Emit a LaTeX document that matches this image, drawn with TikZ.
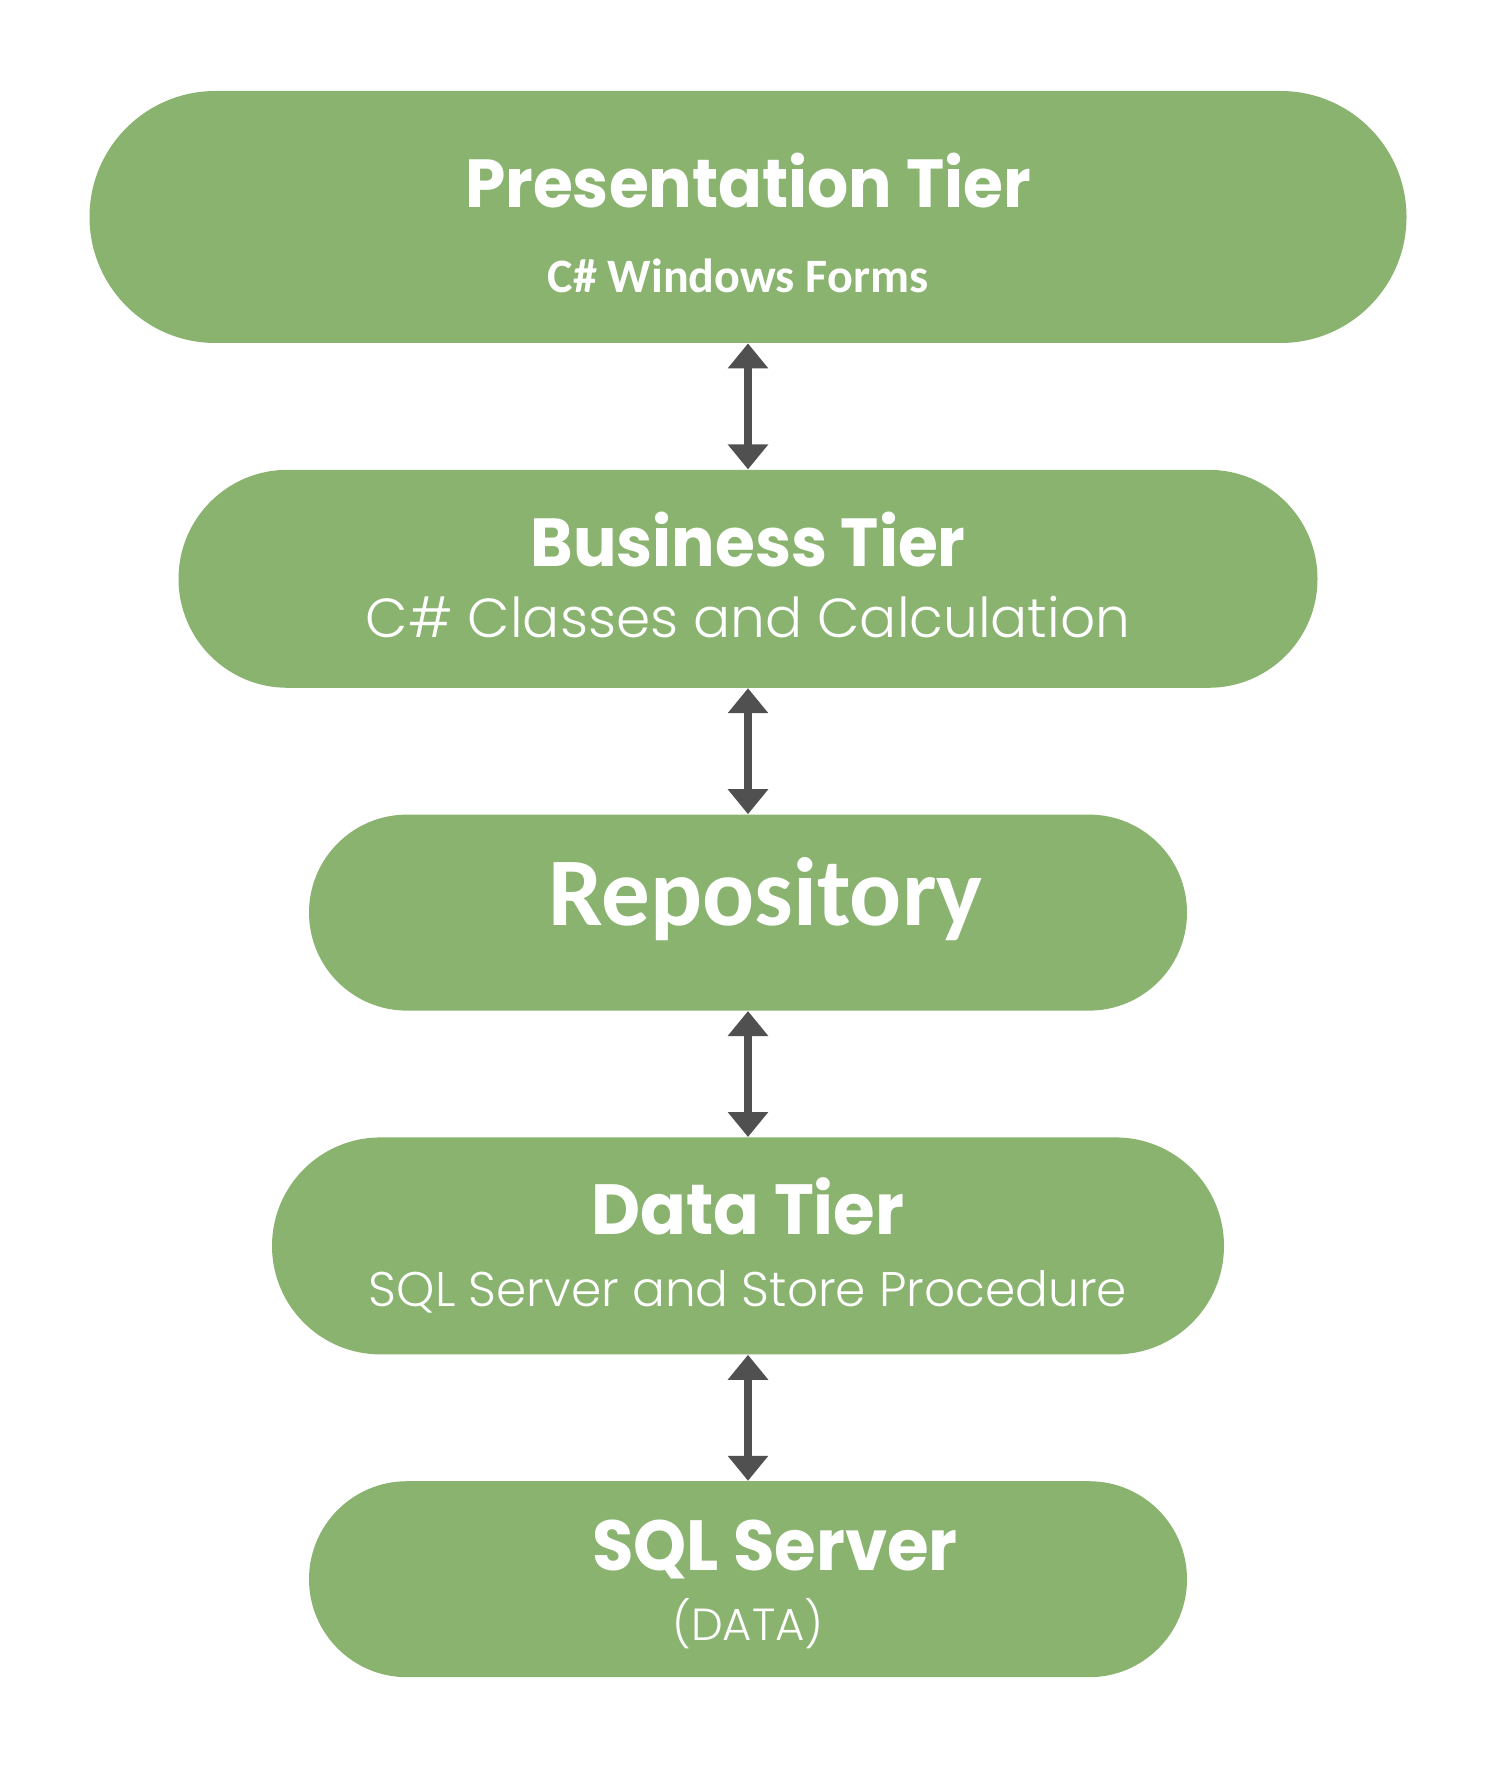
\documentclass[tikz,border=0pt]{standalone}
\usepackage{fontspec}
\usetikzlibrary{positioning,shapes.misc,arrows.meta}
\newfontfamily\popfont{Poppins}[FakeStretch=0.95]
\newfontfamily\poplight{Poppins Light}
\newfontfamily\calfont{Carlito}
\definecolor{tiergreen}{HTML}{89B36F}
\definecolor{arrowgray}{HTML}{505050}
\tikzset{
    tier/.style={shape=rounded rectangle, fill=tiergreen, inner sep=0pt},
    title/.style={anchor=base, text=white, inner sep=0pt, font=\popfont\bfseries\fontsize{34}{40}\selectfont},
    sub/.style={anchor=base, text=white, inner sep=0pt, font=\poplight\fontsize{24.3}{28}\selectfont},
    calibri/.style={anchor=base, text=white, inner sep=0pt, font=\calfont\bfseries\fontsize{#1}{#1}\selectfont},
    link/.style={{Triangle[width=19.5pt,length=12.5pt]}-{Triangle[width=19.5pt,length=12.5pt]}, line width=4pt, arrowgray},
}

\begin{document}
\begin{tikzpicture}
        \useasboundingbox (0,0) rectangle (750pt,-896pt);
        \node[tier, minimum width=658.5pt, minimum height=126pt] (pres) at (374pt,-108.5pt) {};
        \node[tier, minimum width=569.5pt, minimum height=109pt, below=63pt of pres] (bus) {};
        \node[tier, minimum width=439pt, minimum height=98pt, below=63pt of bus] (repo) {};
        \node[tier, minimum width=476pt, minimum height=108.5pt, below=63pt of repo] (data) {};
        \node[tier, minimum width=439pt, minimum height=98pt, below=63pt of data] (sql) {};

        \node[title] (prestitle) at ([yshift=4.5pt]pres.center) {Presentation Tier};
        \node[calibri=24] (pressub) at ([xshift=-5pt,yshift=-38pt]pres.center) {C\# Windows Forms};
        \node[title] (bustitle) at ([yshift=6pt]bus.center) {Business Tier};
        \node[sub, font=\poplight\fontsize{27.5}{32}\selectfont] (bussub) at ([yshift=-29.5pt]bus.center) {C\# Classes and Calculation};
        \node[calibri=48.5] (repotitle) at ([xshift=8.75pt,yshift=-6.5pt]repo.center) {Repository};
        \node[title, font=\popfont\bfseries\fontsize{35.5}{40}\selectfont] (datatitle) at ([yshift=5.75pt]data.center) {Data Tier};
        \node[sub] (datasub) at ([yshift=-30.25pt]data.center) {SQL Server and Store Procedure};
        \node[title, font=\popfont\bfseries\fontsize{35.5}{40}\selectfont] (sqltitle) at ([xshift=13.5pt,yshift=4.5pt]sql.center) {SQL Server};
        \node[sub, font=\poplight\fontsize{22.5}{28}\selectfont] (sqlsub) at ([yshift=-30.5pt]sql.center) {(DATA)};

        \draw[link] (pres.south) -- (bus.north);
        \draw[link] (bus.south) -- (repo.north);
        \draw[link] (repo.south) -- (data.north);
        \draw[link] (data.south) -- (sql.north);
\end{tikzpicture}
\end{document}
